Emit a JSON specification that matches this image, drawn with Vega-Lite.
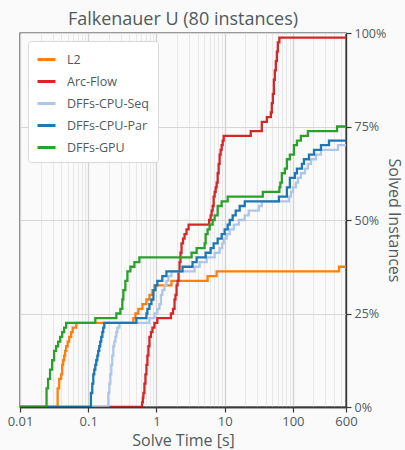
{
  "$schema": "https://vega.github.io/schema/vega-lite/v6.json",
  "autosize": {"type": "none"},
  "width": 326,
  "height": 374,
  "padding": {"left": 20, "top": 33, "right": 59, "bottom": 43},
  "background": "#fafafa",
  "title": {
    "text": "Falkenauer U (80 instances)",
    "fontSize": 18,
    "fontWeight": "normal",
    "font": "Open Sans",
    "color": "#4f5b5d",
    "anchor": "middle",
    "offset": -2
  },
  "config": {
    "view": {"stroke": "#3a3a3a", "strokeWidth": 1.4, "fill": "#fafafa"},
    "axis": {
      "labelFont": "Open Sans",
      "titleFont": "Open Sans",
      "labelColor": "#4f5b5d",
      "titleColor": "#4f5b5d",
      "labelFontSize": 13,
      "titleFontSize": 16,
      "titleFontWeight": "normal",
      "domainColor": "#3a3a3a",
      "domainWidth": 1.4,
      "tickColor": "#3a3a3a",
      "tickWidth": 1.2,
      "tickSize": 5
    },
    "legend": {
      "orient": "top-left",
      "offset": 8,
      "fillColor": "#ffffff",
      "strokeColor": "#d9d9d9",
      "cornerRadius": 3,
      "padding": 8,
      "symbolType": "stroke",
      "symbolSize": 324,
      "symbolStrokeWidth": 3,
      "labelFont": "Open Sans",
      "labelFontSize": 12.5,
      "labelColor": "#4f5b5d",
      "labelOffset": 10,
      "rowPadding": 5
    }
  },
  "data": {
    "values": [
      {"solver": "L2", "time": 0.01, "solved": 0},
      {"solver": "L2", "time": 0.0356, "solved": 4},
      {"solver": "L2", "time": 0.0375, "solved": 6},
      {"solver": "L2", "time": 0.0401, "solved": 7},
      {"solver": "L2", "time": 0.0415, "solved": 9},
      {"solver": "L2", "time": 0.0429, "solved": 10},
      {"solver": "L2", "time": 0.0444, "solved": 11},
      {"solver": "L2", "time": 0.0459, "solved": 12},
      {"solver": "L2", "time": 0.0475, "solved": 13},
      {"solver": "L2", "time": 0.05, "solved": 14},
      {"solver": "L2", "time": 0.0526, "solved": 15},
      {"solver": "L2", "time": 0.0562, "solved": 16},
      {"solver": "L2", "time": 0.0592, "solved": 17},
      {"solver": "L2", "time": 0.0667, "solved": 18},
      {"solver": "L2", "time": 0.459, "solved": 19},
      {"solver": "L2", "time": 0.491, "solved": 20},
      {"solver": "L2", "time": 0.543, "solved": 21},
      {"solver": "L2", "time": 0.623, "solved": 22},
      {"solver": "L2", "time": 0.713, "solved": 23},
      {"solver": "L2", "time": 0.789, "solved": 24},
      {"solver": "L2", "time": 0.873, "solved": 25},
      {"solver": "L2", "time": 0.934, "solved": 26},
      {"solver": "L2", "time": 1.66, "solved": 27},
      {"solver": "L2", "time": 5.62, "solved": 28},
      {"solver": "L2", "time": 7.62, "solved": 29},
      {"solver": "L2", "time": 475, "solved": 30},
      {"solver": "L2", "time": 600, "solved": 30},

      {"solver": "Arc-Flow", "time": 0.01, "solved": 0},
      {"solver": "Arc-Flow", "time": 0.616, "solved": 1},
      {"solver": "Arc-Flow", "time": 0.633, "solved": 2},
      {"solver": "Arc-Flow", "time": 0.644, "solved": 3},
      {"solver": "Arc-Flow", "time": 0.666, "solved": 5},
      {"solver": "Arc-Flow", "time": 0.689, "solved": 7},
      {"solver": "Arc-Flow", "time": 0.713, "solved": 9},
      {"solver": "Arc-Flow", "time": 0.737, "solved": 11},
      {"solver": "Arc-Flow", "time": 0.762, "solved": 13},
      {"solver": "Arc-Flow", "time": 0.789, "solved": 15},
      {"solver": "Arc-Flow", "time": 0.83, "solved": 16},
      {"solver": "Arc-Flow", "time": 0.873, "solved": 17},
      {"solver": "Arc-Flow", "time": 0.934, "solved": 18},
      {"solver": "Arc-Flow", "time": 1.03, "solved": 19},
      {"solver": "Arc-Flow", "time": 1.63, "solved": 20},
      {"solver": "Arc-Flow", "time": 1.75, "solved": 21},
      {"solver": "Arc-Flow", "time": 1.84, "solved": 23},
      {"solver": "Arc-Flow", "time": 1.9, "solved": 24},
      {"solver": "Arc-Flow", "time": 1.97, "solved": 26},
      {"solver": "Arc-Flow", "time": 2.04, "solved": 27},
      {"solver": "Arc-Flow", "time": 2.11, "solved": 29},
      {"solver": "Arc-Flow", "time": 2.18, "solved": 31},
      {"solver": "Arc-Flow", "time": 2.25, "solved": 33},
      {"solver": "Arc-Flow", "time": 2.33, "solved": 35},
      {"solver": "Arc-Flow", "time": 2.45, "solved": 36},
      {"solver": "Arc-Flow", "time": 2.58, "solved": 37},
      {"solver": "Arc-Flow", "time": 2.76, "solved": 38},
      {"solver": "Arc-Flow", "time": 2.96, "solved": 39},
      {"solver": "Arc-Flow", "time": 5.92, "solved": 40},
      {"solver": "Arc-Flow", "time": 6.22, "solved": 41},
      {"solver": "Arc-Flow", "time": 6.44, "solved": 42},
      {"solver": "Arc-Flow", "time": 6.66, "solved": 43},
      {"solver": "Arc-Flow", "time": 6.89, "solved": 45},
      {"solver": "Arc-Flow", "time": 7.13, "solved": 46},
      {"solver": "Arc-Flow", "time": 7.38, "solved": 47},
      {"solver": "Arc-Flow", "time": 7.62, "solved": 48},
      {"solver": "Arc-Flow", "time": 7.89, "solved": 50},
      {"solver": "Arc-Flow", "time": 8.16, "solved": 52},
      {"solver": "Arc-Flow", "time": 8.44, "solved": 54},
      {"solver": "Arc-Flow", "time": 8.73, "solved": 55},
      {"solver": "Arc-Flow", "time": 9.03, "solved": 56},
      {"solver": "Arc-Flow", "time": 9.35, "solved": 57},
      {"solver": "Arc-Flow", "time": 9.67, "solved": 58},
      {"solver": "Arc-Flow", "time": 24.1, "solved": 59},
      {"solver": "Arc-Flow", "time": 35.0, "solved": 61},
      {"solver": "Arc-Flow", "time": 41.5, "solved": 62},
      {"solver": "Arc-Flow", "time": 47.5, "solved": 63},
      {"solver": "Arc-Flow", "time": 49.1, "solved": 65},
      {"solver": "Arc-Flow", "time": 50.8, "solved": 67},
      {"solver": "Arc-Flow", "time": 52.6, "solved": 70},
      {"solver": "Arc-Flow", "time": 54.3, "solved": 72},
      {"solver": "Arc-Flow", "time": 56.2, "solved": 74},
      {"solver": "Arc-Flow", "time": 58.2, "solved": 76},
      {"solver": "Arc-Flow", "time": 60.1, "solved": 78},
      {"solver": "Arc-Flow", "time": 63.3, "solved": 79},
      {"solver": "Arc-Flow", "time": 600, "solved": 79},

      {"solver": "DFFs-CPU-Seq", "time": 0.01, "solved": 0},
      {"solver": "DFFs-CPU-Seq", "time": 0.197, "solved": 3},
      {"solver": "DFFs-CPU-Seq", "time": 0.204, "solved": 5},
      {"solver": "DFFs-CPU-Seq", "time": 0.211, "solved": 7},
      {"solver": "DFFs-CPU-Seq", "time": 0.218, "solved": 9},
      {"solver": "DFFs-CPU-Seq", "time": 0.225, "solved": 11},
      {"solver": "DFFs-CPU-Seq", "time": 0.233, "solved": 13},
      {"solver": "DFFs-CPU-Seq", "time": 0.241, "solved": 14},
      {"solver": "DFFs-CPU-Seq", "time": 0.25, "solved": 15},
      {"solver": "DFFs-CPU-Seq", "time": 0.258, "solved": 16},
      {"solver": "DFFs-CPU-Seq", "time": 0.267, "solved": 17},
      {"solver": "DFFs-CPU-Seq", "time": 0.286, "solved": 18},
      {"solver": "DFFs-CPU-Seq", "time": 0.789, "solved": 19},
      {"solver": "DFFs-CPU-Seq", "time": 0.934, "solved": 20},
      {"solver": "DFFs-CPU-Seq", "time": 1.03, "solved": 21},
      {"solver": "DFFs-CPU-Seq", "time": 1.107, "solved": 22},
      {"solver": "DFFs-CPU-Seq", "time": 1.165, "solved": 24},
      {"solver": "DFFs-CPU-Seq", "time": 1.22, "solved": 25},
      {"solver": "DFFs-CPU-Seq", "time": 1.31, "solved": 26},
      {"solver": "DFFs-CPU-Seq", "time": 1.4, "solved": 27},
      {"solver": "DFFs-CPU-Seq", "time": 1.5, "solved": 28},
      {"solver": "DFFs-CPU-Seq", "time": 1.66, "solved": 29},
      {"solver": "DFFs-CPU-Seq", "time": 3.62, "solved": 30},
      {"solver": "DFFs-CPU-Seq", "time": 4.29, "solved": 31},
      {"solver": "DFFs-CPU-Seq", "time": 5.44, "solved": 32},
      {"solver": "DFFs-CPU-Seq", "time": 7.13, "solved": 33},
      {"solver": "DFFs-CPU-Seq", "time": 8.44, "solved": 34},
      {"solver": "DFFs-CPU-Seq", "time": 9.19, "solved": 35},
      {"solver": "DFFs-CPU-Seq", "time": 9.67, "solved": 36},
      {"solver": "DFFs-CPU-Seq", "time": 10.7, "solved": 37},
      {"solver": "DFFs-CPU-Seq", "time": 11.85, "solved": 38},
      {"solver": "DFFs-CPU-Seq", "time": 13.6, "solved": 39},
      {"solver": "DFFs-CPU-Seq", "time": 16.1, "solved": 40},
      {"solver": "DFFs-CPU-Seq", "time": 19.7, "solved": 41},
      {"solver": "DFFs-CPU-Seq", "time": 22.5, "solved": 42},
      {"solver": "DFFs-CPU-Seq", "time": 31.6, "solved": 43},
      {"solver": "DFFs-CPU-Seq", "time": 35.0, "solved": 44},
      {"solver": "DFFs-CPU-Seq", "time": 87.4, "solved": 45},
      {"solver": "DFFs-CPU-Seq", "time": 93.5, "solved": 46},
      {"solver": "DFFs-CPU-Seq", "time": 100, "solved": 47},
      {"solver": "DFFs-CPU-Seq", "time": 110.7, "solved": 48},
      {"solver": "DFFs-CPU-Seq", "time": 118.5, "solved": 49},
      {"solver": "DFFs-CPU-Seq", "time": 131, "solved": 50},
      {"solver": "DFFs-CPU-Seq", "time": 150, "solved": 51},
      {"solver": "DFFs-CPU-Seq", "time": 166, "solved": 52},
      {"solver": "DFFs-CPU-Seq", "time": 184, "solved": 53},
      {"solver": "DFFs-CPU-Seq", "time": 218, "solved": 54},
      {"solver": "DFFs-CPU-Seq", "time": 258, "solved": 55},
      {"solver": "DFFs-CPU-Seq", "time": 459, "solved": 56},
      {"solver": "DFFs-CPU-Seq", "time": 600, "solved": 56},

      {"solver": "DFFs-CPU-Par", "time": 0.01, "solved": 0},
      {"solver": "DFFs-CPU-Par", "time": 0.1096, "solved": 3},
      {"solver": "DFFs-CPU-Par", "time": 0.1146, "solved": 5},
      {"solver": "DFFs-CPU-Par", "time": 0.1186, "solved": 7},
      {"solver": "DFFs-CPU-Par", "time": 0.1226, "solved": 8},
      {"solver": "DFFs-CPU-Par", "time": 0.127, "solved": 9},
      {"solver": "DFFs-CPU-Par", "time": 0.131, "solved": 10},
      {"solver": "DFFs-CPU-Par", "time": 0.136, "solved": 11},
      {"solver": "DFFs-CPU-Par", "time": 0.14, "solved": 12},
      {"solver": "DFFs-CPU-Par", "time": 0.145, "solved": 13},
      {"solver": "DFFs-CPU-Par", "time": 0.15, "solved": 14},
      {"solver": "DFFs-CPU-Par", "time": 0.155, "solved": 15},
      {"solver": "DFFs-CPU-Par", "time": 0.161, "solved": 16},
      {"solver": "DFFs-CPU-Par", "time": 0.166, "solved": 17},
      {"solver": "DFFs-CPU-Par", "time": 0.172, "solved": 18},
      {"solver": "DFFs-CPU-Par", "time": 0.508, "solved": 19},
      {"solver": "DFFs-CPU-Par", "time": 0.713, "solved": 20},
      {"solver": "DFFs-CPU-Par", "time": 0.737, "solved": 21},
      {"solver": "DFFs-CPU-Par", "time": 0.789, "solved": 22},
      {"solver": "DFFs-CPU-Par", "time": 0.844, "solved": 23},
      {"solver": "DFFs-CPU-Par", "time": 0.903, "solved": 25},
      {"solver": "DFFs-CPU-Par", "time": 0.967, "solved": 26},
      {"solver": "DFFs-CPU-Par", "time": 1.03, "solved": 27},
      {"solver": "DFFs-CPU-Par", "time": 1.22, "solved": 28},
      {"solver": "DFFs-CPU-Par", "time": 1.4, "solved": 29},
      {"solver": "DFFs-CPU-Par", "time": 2.41, "solved": 30},
      {"solver": "DFFs-CPU-Par", "time": 3.38, "solved": 31},
      {"solver": "DFFs-CPU-Par", "time": 3.88, "solved": 32},
      {"solver": "DFFs-CPU-Par", "time": 5.26, "solved": 33},
      {"solver": "DFFs-CPU-Par", "time": 6.22, "solved": 34},
      {"solver": "DFFs-CPU-Par", "time": 6.89, "solved": 35},
      {"solver": "DFFs-CPU-Par", "time": 7.89, "solved": 36},
      {"solver": "DFFs-CPU-Par", "time": 9.03, "solved": 37},
      {"solver": "DFFs-CPU-Par", "time": 10, "solved": 38},
      {"solver": "DFFs-CPU-Par", "time": 11.07, "solved": 39},
      {"solver": "DFFs-CPU-Par", "time": 11.85, "solved": 40},
      {"solver": "DFFs-CPU-Par", "time": 13.1, "solved": 41},
      {"solver": "DFFs-CPU-Par", "time": 14.5, "solved": 42},
      {"solver": "DFFs-CPU-Par", "time": 16.6, "solved": 43},
      {"solver": "DFFs-CPU-Par", "time": 19.7, "solved": 44},
      {"solver": "DFFs-CPU-Par", "time": 62.3, "solved": 45},
      {"solver": "DFFs-CPU-Par", "time": 81.6, "solved": 47},
      {"solver": "DFFs-CPU-Par", "time": 90.3, "solved": 49},
      {"solver": "DFFs-CPU-Par", "time": 107, "solved": 50},
      {"solver": "DFFs-CPU-Par", "time": 114.6, "solved": 51},
      {"solver": "DFFs-CPU-Par", "time": 135.6, "solved": 52},
      {"solver": "DFFs-CPU-Par", "time": 145, "solved": 53},
      {"solver": "DFFs-CPU-Par", "time": 172, "solved": 54},
      {"solver": "DFFs-CPU-Par", "time": 204, "solved": 55},
      {"solver": "DFFs-CPU-Par", "time": 258, "solved": 56},
      {"solver": "DFFs-CPU-Par", "time": 338, "solved": 57},
      {"solver": "DFFs-CPU-Par", "time": 600, "solved": 57},

      {"solver": "DFFs-GPU", "time": 0.01, "solved": 0},
      {"solver": "DFFs-GPU", "time": 0.0245, "solved": 4},
      {"solver": "DFFs-GPU", "time": 0.0258, "solved": 6},
      {"solver": "DFFs-GPU", "time": 0.0276, "solved": 8},
      {"solver": "DFFs-GPU", "time": 0.0296, "solved": 10},
      {"solver": "DFFs-GPU", "time": 0.0316, "solved": 12},
      {"solver": "DFFs-GPU", "time": 0.0338, "solved": 13},
      {"solver": "DFFs-GPU", "time": 0.0362, "solved": 14},
      {"solver": "DFFs-GPU", "time": 0.0388, "solved": 15},
      {"solver": "DFFs-GPU", "time": 0.0415, "solved": 16},
      {"solver": "DFFs-GPU", "time": 0.0444, "solved": 17},
      {"solver": "DFFs-GPU", "time": 0.0475, "solved": 18},
      {"solver": "DFFs-GPU", "time": 0.127, "solved": 19},
      {"solver": "DFFs-GPU", "time": 0.258, "solved": 20},
      {"solver": "DFFs-GPU", "time": 0.296, "solved": 21},
      {"solver": "DFFs-GPU", "time": 0.316, "solved": 23},
      {"solver": "DFFs-GPU", "time": 0.327, "solved": 25},
      {"solver": "DFFs-GPU", "time": 0.35, "solved": 27},
      {"solver": "DFFs-GPU", "time": 0.375, "solved": 29},
      {"solver": "DFFs-GPU", "time": 0.415, "solved": 30},
      {"solver": "DFFs-GPU", "time": 0.475, "solved": 31},
      {"solver": "DFFs-GPU", "time": 0.562, "solved": 32},
      {"solver": "DFFs-GPU", "time": 3.27, "solved": 33},
      {"solver": "DFFs-GPU", "time": 3.88, "solved": 34},
      {"solver": "DFFs-GPU", "time": 5.08, "solved": 35},
      {"solver": "DFFs-GPU", "time": 5.26, "solved": 37},
      {"solver": "DFFs-GPU", "time": 5.62, "solved": 38},
      {"solver": "DFFs-GPU", "time": 6.02, "solved": 39},
      {"solver": "DFFs-GPU", "time": 6.66, "solved": 40},
      {"solver": "DFFs-GPU", "time": 7.13, "solved": 41},
      {"solver": "DFFs-GPU", "time": 7.89, "solved": 43},
      {"solver": "DFFs-GPU", "time": 9.03, "solved": 44},
      {"solver": "DFFs-GPU", "time": 11.07, "solved": 45},
      {"solver": "DFFs-GPU", "time": 36.2, "solved": 46},
      {"solver": "DFFs-GPU", "time": 63.3, "solved": 47},
      {"solver": "DFFs-GPU", "time": 65.5, "solved": 48},
      {"solver": "DFFs-GPU", "time": 68.9, "solved": 50},
      {"solver": "DFFs-GPU", "time": 76.2, "solved": 51},
      {"solver": "DFFs-GPU", "time": 81.6, "solved": 53},
      {"solver": "DFFs-GPU", "time": 90.3, "solved": 54},
      {"solver": "DFFs-GPU", "time": 103.5, "solved": 56},
      {"solver": "DFFs-GPU", "time": 114.6, "solved": 57},
      {"solver": "DFFs-GPU", "time": 131, "solved": 58},
      {"solver": "DFFs-GPU", "time": 166, "solved": 59},
      {"solver": "DFFs-GPU", "time": 444, "solved": 60},
      {"solver": "DFFs-GPU", "time": 600, "solved": 60}
    ]
  },
  "resolve": {"axis": {"x": "independent"}},
  "layer": [
    {
      "mark": {"type": "line", "interpolate": "step-after", "strokeWidth": 2.3, "clip": true},
      "encoding": {
        "x": {
          "field": "time",
          "type": "quantitative",
          "scale": {"type": "log", "domain": [0.01, 600], "nice": false},
          "axis": {
            "title": "Solve Time [s]",
            "orient": "bottom",
            "titlePadding": 4,
            "values": [0.01, 0.02, 0.03, 0.04, 0.05, 0.06, 0.07, 0.08, 0.09,
                       0.1, 0.2, 0.3, 0.4, 0.5, 0.6, 0.7, 0.8, 0.9,
                       1, 2, 3, 4, 5, 6, 7, 8, 9,
                       10, 20, 30, 40, 50, 60, 70, 80, 90,
                       100, 200, 300, 400, 500, 600],
            "labelExpr": "indexof([0.01, 0.1, 1, 10, 100, 600], datum.value) >= 0 ? format(datum.value, '~g') : ''",
            "labelOverlap": false,
            "labelBound": false,
            "labelFlush": false,
            "labelPadding": 3,
            "grid": true,
            "gridColor": {"condition": {"test": "indexof([0.01, 0.1, 1, 10, 100], datum.value) >= 0", "value": "#d2d2d2"}, "value": "#e8e8e8"},
            "gridWidth": {"condition": {"test": "indexof([0.01, 0.1, 1, 10, 100], datum.value) >= 0", "value": 1.3}, "value": 1},
            "tickOpacity": {"condition": {"test": "indexof([0.01, 0.1, 1, 10, 100, 600], datum.value) >= 0", "value": 1}, "value": 0}
          }
        },
        "y": {
          "field": "solved",
          "type": "quantitative",
          "scale": {"domain": [0, 80], "nice": false},
          "axis": {
            "orient": "right",
            "title": "Solved Instances",
            "values": [0, 20, 40, 60, 80],
            "labelExpr": "format(datum.value / 80, '.0%')",
            "labelFontSize": 12.5,
            "labelPadding": 3,
            "titlePadding": 0,
            "grid": true,
            "gridColor": "#d6d6d6",
            "gridWidth": 1
          }
        },
        "color": {
          "field": "solver",
          "type": "nominal",
          "scale": {
            "domain": ["L2", "Arc-Flow", "DFFs-CPU-Seq", "DFFs-CPU-Par", "DFFs-GPU"],
            "range": ["#ff7f0e", "#d62728", "#aec7e8", "#1f77b4", "#2ca02c"]
          },
          "legend": {"title": null}
        }
      }
    },
    {
      "mark": {"type": "point", "opacity": 0},
      "encoding": {
        "x": {
          "field": "time",
          "type": "quantitative",
          "axis": {
            "orient": "bottom",
            "zindex": 2,
            "title": null,
            "labels": false,
            "ticks": false,
            "grid": false,
            "domain": true
          }
        },
        "y": {"field": "solved", "type": "quantitative"}
      }
    }
  ]
}
